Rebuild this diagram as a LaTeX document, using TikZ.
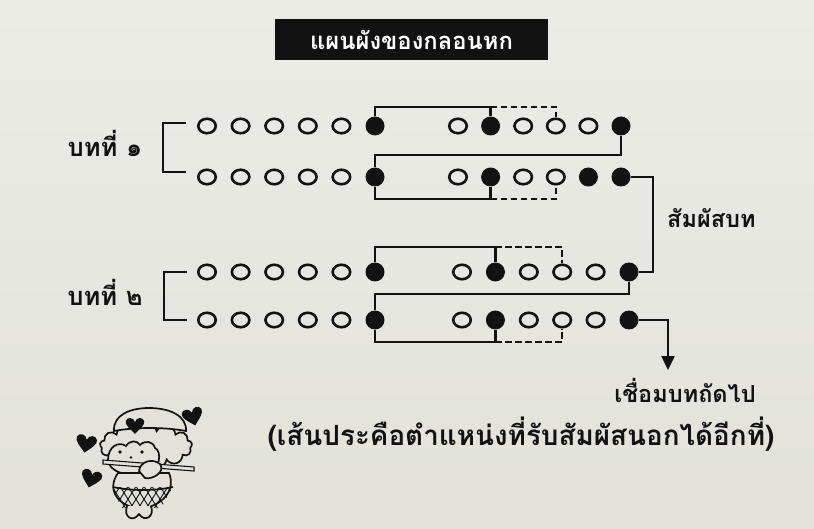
\documentclass[tikz,border=0pt]{standalone}
\usepackage{fontspec}
\newfontfamily\thai[Script=Thai]{Loma}
\usetikzlibrary{arrows.meta,shapes.geometric,shapes.symbols}

\definecolor{paper}{RGB}{226,226,219}
\definecolor{paperhi}{RGB}{236,236,231}
\definecolor{ink}{RGB}{18,18,18}

\tikzset{
  heart/.pic={
    \fill[ink] (0,6) .. controls (-4,2) and (-8,-1) .. (-7,-4)
      .. controls (-6,-7) and (-1,-7) .. (0,-3)
      .. controls (1,-7) and (6,-7) .. (7,-4)
      .. controls (8,-1) and (4,2) .. (0,6) -- cycle;
  }
}

\begin{document}
\begin{tikzpicture}[x=1pt,y=-1pt,
  hole/.style={ellipse, draw=ink, line width=2.6pt, minimum width=17.5pt,
    minimum height=14.5pt, inner sep=0pt},
  rhyme/.style={circle, fill=ink, minimum size=19pt, inner sep=0pt},
  link/.style={draw=ink, line width=2.5pt},
  optional/.style={link, dash pattern=on 6.5pt off 3.5pt},
  txt/.style={text=ink, inner sep=0pt, font=\thai\bfseries\fontsize{23.5}{27}\selectfont},
]
% page
\useasboundingbox (0,0) rectangle (814,529);
\shade[top color=paperhi, bottom color=paper] (0,0) rectangle (814,529);

% heading
\node[fill=ink, minimum width=273pt, minimum height=41pt, inner sep=0pt,
  text=white, font=\thai\bfseries\fontsize{23.8}{27}\selectfont] (title) at (411.5,39.5)
  {\raisebox{-5pt}{แผนผังของกลอนหก}};

% the four lines of syllables
\foreach \r/\y/\xo/\st/\kinds in {
  1/126/458/32.6/{hole,hole,hole,hole,hole,rhyme,hole,rhyme,hole,hole,hole,rhyme},
  2/177/458/32.6/{hole,hole,hole,hole,hole,rhyme,hole,rhyme,hole,hole,rhyme,rhyme},
  3/272/462/33.4/{hole,hole,hole,hole,hole,rhyme,hole,rhyme,hole,hole,hole,rhyme},
  4/320/462/33.4/{hole,hole,hole,hole,hole,rhyme,hole,rhyme,hole,hole,hole,rhyme}}{
  \foreach \k [count=\c] in \kinds {
    \pgfmathsetmacro{\x}{\c<7 ? 207+(\c-1)*33.6 : \xo+(\c-7)*\st}
    \node[\k] (r\r-\c) at (\x,\y) {};
  }
}

% levels of the connecting lines
\coordinate (t1) at (0,107);
\coordinate (m1) at (0,155);
\coordinate (b1) at (0,199);
\coordinate (t2) at (0,247);
\coordinate (m2) at (0,294);
\coordinate (b2) at (0,342);
\coordinate (lnk) at (653,0);
\coordinate (out) at (668,370);

% stanza 1
\draw[link] (r1-6.north) |- (r1-8 |- t1) -- (r1-8.north);
\draw[optional] (r1-8 |- t1) -| (r1-10.north);
\draw[link] (r1-12.south) |- (r2-6 |- m1) -- (r2-6.north);
\draw[link] (r2-6.south) |- (r2-8 |- b1) -- (r2-8.south);
\draw[optional] (r2-8 |- b1) -| (r2-10.south);

% link between stanzas
\draw[link] (r2-12.east) -- (r2-12 -| lnk) -- (r3-12 -| lnk) -- (r3-12.east);

% stanza 2
\draw[link] (r3-6.north) |- (r3-8 |- t2) -- (r3-8.north);
\draw[optional] (r3-8 |- t2) -| (r3-10.north);
\draw[link] (r3-12.south) |- (r4-6 |- m2) -- (r4-6.north);
\draw[link] (r4-6.south) |- (r4-8 |- b2) -- (r4-8.south);
\draw[optional] (r4-8 |- b2) -| (r4-10.south);
\draw[link, -{Triangle[length=14pt, width=13pt]}] (r4-12.east) -| (out);

% brackets and labels
\draw[link, line width=2.8pt] (186,123) -- (163,123) -- (163,172) -- (186,172);
\draw[link, line width=2.8pt] (187,272) -- (164,272) -- (164,320) -- (187,320);
\node[txt, font=\thai\bfseries\fontsize{25.5}{29}\selectfont] (s1) at (105,143) {บทที่ ๑};
\node[txt, font=\thai\bfseries\fontsize{25.5}{29}\selectfont] (s2) at (105,292) {บทที่ ๒};
\node[txt, anchor=west] (rl) at (667,218) {สัมผัสบท};
\node[txt] (nx) at (685,390) {เชื่อมบทถัดไป};
\node[txt, font=\thai\bfseries\fontsize{27.8}{31}\selectfont] (nt) at (521,434)
  {(เส้นประคือตำแหน่งที่รับสัมผัสนอกได้อีกที่)};

% little flute player
\begin{scope}[draw=ink, line width=1.7pt]
  \node[cloud, cloud puffs=13, aspect=2.1, draw=ink, line width=1.7pt,
    fill=paper, minimum width=92pt, minimum height=46pt, inner sep=0pt]
    (hair) at (146,446) {};
  \filldraw[fill=paper] (114,431) .. controls (113,415) and (130,408) .. (149,408)
    .. controls (170,408) and (187,416) .. (186,431)
    .. controls (165,427) and (135,427) .. (114,431) -- cycle;
  \filldraw[fill=paper] (108,460) .. controls (108,446) and (119,441) .. (126,446)
    .. controls (130,440) and (137,440) .. (140,445)
    .. controls (145,440) and (153,441) .. (155,448)
    .. controls (162,451) and (161,470) .. (146,474)
    .. controls (130,477) and (109,473) .. (108,460) -- cycle;
  \fill[ink] (120,452) circle (1.8) (142,452) circle (1.8) (131,457.5) circle (1.3);
  % body and chequered skirt
  \filldraw[fill=paper] (118,473) .. controls (106,490) and (118,506) .. (140,509)
    .. controls (163,506) and (176,490) .. (169,473) -- cycle;
  \begin{scope}
    \clip (113,487) -- (173,487) -- (161,508) -- (121,508) -- cycle;
    \foreach \i in {0,...,10} {
      \draw[line width=0.9pt] (100+\i*8,480) -- (120+\i*8,512);
      \draw[line width=0.9pt] (180-\i*8,480) -- (160-\i*8,512);
    }
  \end{scope}
  \draw (113,487) .. controls (130,491) and (155,491) .. (173,487);
  \filldraw[fill=paper] (127,506) .. controls (123,517) and (133,523) .. (139,514)
    .. controls (145,523) and (155,516) .. (151,506);
  % flute and hands
  \filldraw[fill=paper, line width=1.1pt] (103,460) -- (194,467) -- (194,471)
    -- (103,464) -- cycle;
  \filldraw[fill=paper] (139,471) .. controls (140,461) and (153,458) .. (160,464)
    .. controls (166,472) and (152,480) .. (145,478) -- cycle;
  % hearts
  \pic[scale=1.3] at (135,426) {heart};
  \pic[scale=1.45, rotate=15] at (193,417) {heart};
  \pic[scale=1.45, rotate=-10] at (86,444) {heart};
  \pic[scale=1.45, rotate=-15] at (91,479) {heart};
\end{scope}
\end{tikzpicture}
\end{document}
